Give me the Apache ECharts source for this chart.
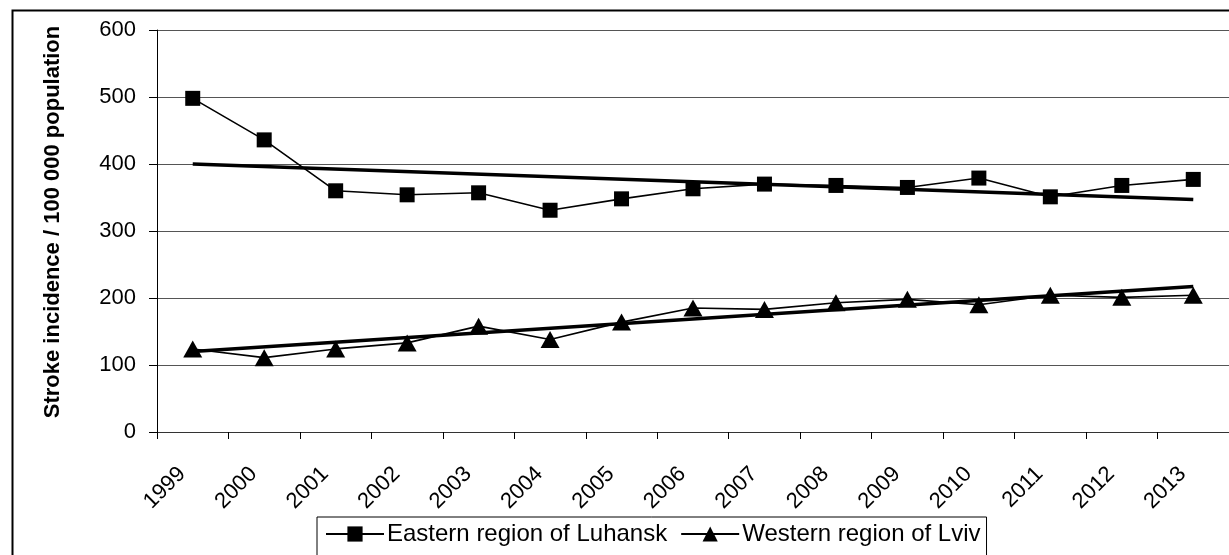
<!DOCTYPE html>
<html>
<head>
<meta charset="utf-8">
<script src="https://cdn.jsdelivr.net/npm/echarts@6/dist/echarts.min.js"></script>
<style>
  html, body { margin: 0; padding: 0; background: #fff; }
  #chart { width: 1229px; height: 555px; }
</style>
</head>
<body>
<div id="chart"></div>
<script>
// Stroke incidence per 100 000 population, 1999–2013
const years = ['1999', '2000', '2001', '2002', '2003', '2004', '2005', '2006',
               '2007', '2008', '2009', '2010', '2011', '2012', '2013'];
const eastern = [498, 436, 360, 354, 357, 331, 348, 363, 370, 368, 365, 379, 351, 368, 377];
const western = [124, 111, 124, 133, 158, 138, 164, 185, 183, 193, 198, 190, 204, 201, 204];
// Linear trend end points (first and last year)
const easternTrend = [400, 347];
const westernTrend = [120, 217];

const FONT = '"Liberation Sans", Arial, sans-serif';

const trendData = (vals) => [[years[0], vals[0]], [years[years.length - 1], vals[1]]];

const chart = echarts.init(document.getElementById('chart'), null, { renderer: 'canvas' });
chart.setOption({
  animation: false,
  backgroundColor: '#fff',
  textStyle: { fontFamily: FONT, color: '#000' },
  graphic: [{
    type: 'rect',
    left: 10, top: 8,
    shape: { width: 1240, height: 570 },
    style: { fill: 'none', stroke: '#000', lineWidth: 2 },
    silent: true
  }],
  grid: { left: 157, top: 30, width: 1077, height: 402, containLabel: false },
  legend: {
    left: 317, top: 517,
    data: ['Eastern region of Luhansk', 'Western region of Lviv'],
    borderColor: '#000', borderWidth: 1, backgroundColor: '#fff',
    padding: [5, 6, 10, 8],
    itemWidth: 58, itemHeight: 19, itemGap: 13,
    textStyle: { fontFamily: FONT, fontSize: 24, color: '#000', padding: [0, 0, 0, -2] }
  },
  xAxis: {
    type: 'category',
    data: years,
    boundaryGap: true,
    axisLine: { lineStyle: { color: '#333', width: 1 } },
    axisTick: { show: true, length: 7, lineStyle: { color: '#000' } },
    axisLabel: {
      rotate: 45, fontSize: 22, color: '#000', fontFamily: FONT,
      margin: 28, padding: [0, 15, 0, 0], interval: 0
    },
    splitLine: { show: false }
  },
  yAxis: {
    type: 'value',
    min: 0, max: 600, interval: 100,
    name: 'Stroke incidence / 100 000 population',
    nameLocation: 'middle',
    nameGap: 93,
    nameTextStyle: { fontFamily: FONT, fontSize: 22, fontWeight: 'bold', color: '#000', padding: [0, 0, 0, 18] },
    axisLine: { show: true, lineStyle: { color: '#000', width: 1 } },
    axisTick: { show: true, length: 8, lineStyle: { color: '#000' } },
    axisLabel: { fontSize: 22, color: '#000', fontFamily: FONT, margin: 21, padding: [0, 0, 6, 0] },
    splitLine: { show: true, lineStyle: { color: '#555', width: 1 } }
  },
  series: [
    {
      name: 'Eastern region of Luhansk',
      type: 'line',
      data: eastern,
      symbol: 'rect', symbolSize: 15,
      itemStyle: { color: '#000' },
      lineStyle: { color: '#000', width: 1.6 },
      z: 3
    },
    {
      name: 'Western region of Lviv',
      type: 'line',
      data: western,
      symbol: 'triangle', symbolSize: [19, 17],
      itemStyle: { color: '#000' },
      lineStyle: { color: '#000', width: 1.6 },
      z: 3
    },
    {
      name: 'Eastern trend',
      type: 'line',
      data: trendData(easternTrend),
      symbol: 'none',
      lineStyle: { color: '#000', width: 3.5 },
      z: 4
    },
    {
      name: 'Western trend',
      type: 'line',
      data: trendData(westernTrend),
      symbol: 'none',
      lineStyle: { color: '#000', width: 3.5 },
      z: 4
    }
  ]
});
</script>
</body>
</html>
